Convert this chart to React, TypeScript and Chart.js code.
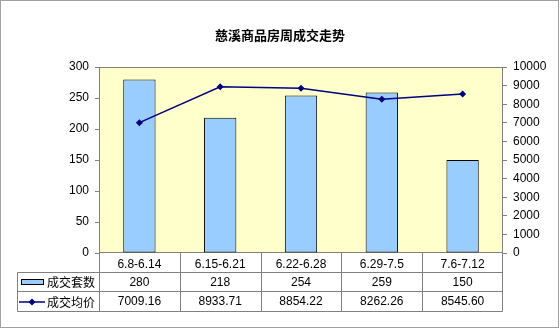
import React, { useEffect, useRef } from "react";
import { Chart, registerables } from "chart.js";

Chart.register(...registerables);

const TITLE = "慈溪商品房周成交走势";
const categories = ["6.8-6.14", "6.15-6.21", "6.22-6.28", "6.29-7.5", "7.6-7.12"];
const volumeLabel = "成交套数";
const volumeValues = [280, 218, 254, 259, 150];
const priceLabel = "成交均价";
const priceValues = [7009.16, 8933.71, 8854.22, 8262.26, 8545.6];
const leftAxisMax = 300;
const leftAxisStep = 50;
const rightAxisMax = 10000;
const rightAxisStep = 1000;

const FONT = '"Liberation Sans", Arial, "Noto Sans CJK SC", sans-serif';
const CJK = '"Noto Sans CJK SC", "Liberation Sans", sans-serif';
const GRID = "#808080";
const PLOT_BG = "#FFFFCC";
const BAR_FILL = "#99CCFF";
const LINE = "#000080";
const TABLE_H = 59;
const LEGEND_LEFT = 17;
const TEXT_SIZE = 12;

const framePlugin = {
  id: "frame",
  beforeDraw(chart: any) {
    const { ctx, width, height } = chart;
    ctx.save();
    ctx.fillStyle = "#ffffff";
    ctx.fillRect(0, 0, width, height);
    ctx.strokeStyle = "#a0a0a0";
    ctx.lineWidth = 1;
    ctx.strokeRect(0.5, 0.5, width - 2, height - 2);
    const { left, top, right, bottom } = chart.chartArea;
    ctx.fillStyle = PLOT_BG;
    ctx.fillRect(left, top, right - left, bottom - top);
    ctx.restore();
  },
  beforeDatasetsDraw(chart: any) {
    const { ctx } = chart;
    const { left, top, right, bottom } = chart.chartArea;
    ctx.save();
    ctx.strokeStyle = GRID;
    ctx.lineWidth = 1;
    const l = Math.round(left) + 0.5;
    const r = Math.round(right) - 0.5;
    const t = Math.round(top) + 0.5;
    const b = Math.round(bottom) - 0.5;
    ctx.strokeRect(l, t, r - l, b - t);
    ctx.restore();
  },
};

const tablePlugin = {
  id: "dataTable",
  afterDraw(chart: any) {
    const { ctx } = chart;
    const { left, right, bottom } = chart.chartArea;
    const xs = chart.scales.x;
    const n = chart.data.labels.length;
    const catW = (right - left) / n;
    const b = Math.round(bottom) - 0.5;
    const rowH = TABLE_H / 3;
    const vx = (i: number) =>
      i === n ? Math.round(right) - 0.5 : Math.round(left + i * catW) + 0.5;
    const hy = (r: number) => Math.round(b + r * rowH - 0.5) + 0.5;
    ctx.save();
    ctx.strokeStyle = GRID;
    ctx.lineWidth = 1;
    ctx.beginPath();
    for (let i = 0; i <= n; i++) {
      ctx.moveTo(vx(i), b);
      ctx.lineTo(vx(i), hy(3));
    }
    for (let r = 1; r <= 3; r++) {
      ctx.moveTo(LEGEND_LEFT + 0.5, hy(r));
      ctx.lineTo(vx(n), hy(r));
    }
    ctx.moveTo(LEGEND_LEFT + 0.5, hy(1));
    ctx.lineTo(LEGEND_LEFT + 0.5, hy(3));
    ctx.stroke();

    const datasets = chart.data.datasets;
    datasets.forEach((ds: any, j: number) => {
      const yMid = (hy(j + 1) + hy(j + 2)) / 2;
      ctx.fillStyle = "#000000";
      ctx.font = `${TEXT_SIZE}px ${FONT}`;
      ctx.textAlign = "center";
      ctx.textBaseline = "middle";
      ds.data.forEach((v: number, i: number) => {
        const txt = ds.type === "line" ? v.toFixed(2) : String(v);
        ctx.fillText(txt, xs.getPixelForValue(i), yMid + 0.5);
      });
      const cy = Math.round(yMid);
      if (ds.type === "bar") {
        ctx.fillStyle = BAR_FILL;
        ctx.fillRect(21, cy - 3, 23, 6);
        ctx.strokeStyle = "#000000";
        ctx.lineWidth = 1;
        ctx.strokeRect(21.5, cy - 2.5, 22, 5);
      } else {
        ctx.strokeStyle = LINE;
        ctx.lineWidth = 1.5;
        ctx.beginPath();
        ctx.moveTo(19, cy);
        ctx.lineTo(45, cy);
        ctx.stroke();
        ctx.fillStyle = LINE;
        const cx = 32;
        ctx.beginPath();
        ctx.moveTo(cx, cy - 3.5);
        ctx.lineTo(cx + 3.5, cy);
        ctx.lineTo(cx, cy + 3.5);
        ctx.lineTo(cx - 3.5, cy);
        ctx.closePath();
        ctx.fill();
        ctx.lineWidth = 1;
      }
      ctx.fillStyle = "#000000";
      ctx.font = `12px ${CJK}`;
      ctx.textAlign = "left";
      ctx.fillText(ds.label, 47, yMid + 0.5);
    });
    ctx.restore();
  },
};

export default function App() {
  const canvasRef = useRef<HTMLCanvasElement | null>(null);

  useEffect(() => {
    const canvas = canvasRef.current;
    if (!canvas) return;
    const chart = new Chart(canvas, {
      type: "bar",
      data: {
        labels: categories,
        datasets: [
          {
            type: "bar",
            label: volumeLabel,
            data: volumeValues,
            yAxisID: "y",
            backgroundColor: BAR_FILL,
            borderColor: "#000000",
            borderWidth: 1,
            borderSkipped: false,
            barPercentage: 0.4,
            categoryPercentage: 1,
            order: 1,
          } as any,
          {
            type: "line",
            label: priceLabel,
            data: priceValues,
            yAxisID: "y1",
            borderColor: LINE,
            backgroundColor: LINE,
            borderWidth: 1.5,
            pointStyle: "rectRot",
            pointRadius: 3.5,
            pointBackgroundColor: LINE,
            pointBorderColor: LINE,
            pointBorderWidth: 0,
            tension: 0,
            order: 0,
          } as any,
        ],
      },
      options: {
        responsive: false,
        animation: false,
        layout: { padding: { left: 0, right: 0, top: 0, bottom: 17 } },
        plugins: {
          legend: { display: false },
          tooltip: { enabled: false },
          title: {
            display: true,
            text: TITLE,
            color: "#000000",
            font: { family: CJK, size: 13, weight: "bold", lineHeight: "16px" } as any,
            padding: { top: 27, bottom: 24 },
          },
        },
        scales: {
          x: {
            offset: true,
            grid: { display: false, drawTicks: false },
            border: { display: false },
            ticks: {
              color: "#000000",
              font: { family: FONT, size: TEXT_SIZE },
              padding: 4,
              maxRotation: 0,
              autoSkip: false,
            },
            afterFit: (s: any) => {
              s.height = TABLE_H;
            },
          },
          y: {
            position: "left",
            min: 0,
            max: leftAxisMax,
            grid: {
              display: true,
              drawOnChartArea: false,
              drawTicks: true,
              tickLength: 4,
              color: GRID,
            },
            border: { display: false },
            ticks: {
              stepSize: leftAxisStep,
              color: "#000000",
              font: { family: FONT, size: TEXT_SIZE },
              padding: 6,
              callback: (v: any) => String(v),
            },
            afterFit: (s: any) => {
              s.width = 99;
            },
          },
          y1: {
            position: "right",
            min: 0,
            max: rightAxisMax,
            grid: {
              display: true,
              drawOnChartArea: false,
              drawTicks: true,
              tickLength: 4,
              color: GRID,
            },
            border: { display: false },
            ticks: {
              stepSize: rightAxisStep,
              color: "#000000",
              font: { family: FONT, size: TEXT_SIZE },
              padding: 6,
              callback: (v: any) => String(v),
            },
            afterFit: (s: any) => {
              s.width = 57;
            },
          },
        },
      },
      plugins: [framePlugin, tablePlugin],
    });
    return () => chart.destroy();
  }, []);

  return (
    <div
      style={{
        position: "fixed",
        left: 0,
        top: 0,
        width: 560,
        height: 329,
        background: "#ffffff",
      }}
    >
      <canvas
        ref={canvasRef}
        width={560}
        height={329}
        style={{ display: "block", width: 560, height: 329 }}
      />
    </div>
  );
}
